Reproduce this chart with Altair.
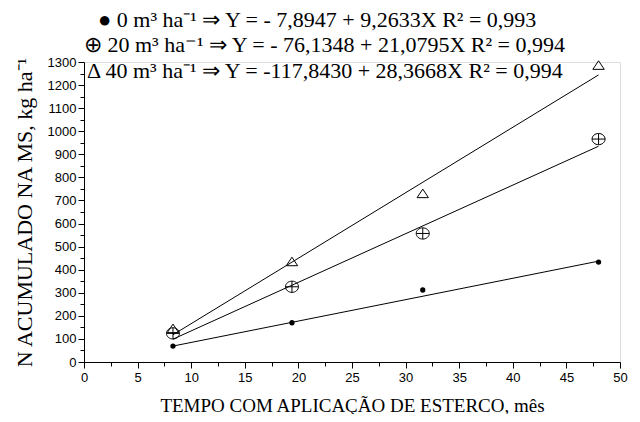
import altair as alt
import pandas as pd

# observed points
months = [8.3, 19.4, 31.6, 48.0]
y_0 = [69, 170, 312, 433]
y_20 = [124, 326, 557, 966]
y_40 = [142, 432, 727, 1283]

# fitted lines (end points)
fit_x = [8.3, 48.0]
fit_0 = [69, 437]
fit_20 = [99, 935]
fit_40 = [118, 1244]

legend_lines = [
    "● 0 m³ ha⁻¹ ⇒ Y = - 7,8947 + 9,2633X   R² = 0,993",
    "⊕ 20 m³ ha⁻¹ ⇒ Y = - 76,1348 + 21,0795X  R² = 0,994",
    "Δ 40 m³ ha⁻¹ ⇒ Y = -117,8430 + 28,3668X  R² = 0,994",
]

pts = pd.DataFrame({
    "x": months * 3,
    "y": y_0 + y_20 + y_40,
    "s": ["0"] * 4 + ["20"] * 4 + ["40"] * 4,
})
fits = pd.DataFrame({
    "x": fit_x * 3,
    "y": fit_0 + fit_20 + fit_40,
    "s": ["0"] * 2 + ["20"] * 2 + ["40"] * 2,
})

W, H = 536, 300
xscale = alt.Scale(domain=[0, 50], nice=False, zero=False)
yscale = alt.Scale(domain=[0, 1300], nice=False, zero=False)

xaxis = alt.Axis(
    values=[i * 2.5 for i in range(21)],
    labelExpr="datum.value % 5 === 0 ? datum.label : ''",
    labelOverlap=False, labelFlush=False, grid=False,
    tickSize={"condition": {"test": "datum.value % 5 === 0", "value": 6}, "value": 4},
    title="TEMPO COM APLICAÇÃO DE ESTERCO, mês",
    titleFont="Liberation Serif", titleFontSize=19, titleFontWeight="normal",
    titlePadding=12, titleColor="black",
    labelFont="Liberation Sans", labelFontSize=13, labelColor="black", labelPadding=3,
    domainColor="black", tickColor="black",
)
yaxis = alt.Axis(
    values=list(range(0, 1301, 50)),
    format="d",
    labelExpr="datum.value % 100 === 0 ? datum.label : ''",
    labelOverlap=False, grid=False,
    tickSize={"condition": {"test": "datum.value % 100 === 0", "value": 6}, "value": 4},
    title="N ACUMULADO NA MS, kg ha⁻¹",
    titleFont="Liberation Serif", titleFontSize=22, titleFontWeight="normal",
    titlePadding=11, titleColor="black",
    labelFont="Liberation Sans", labelFontSize=13, labelColor="black", labelPadding=2,
    domainColor="black", tickColor="black",
)

base_x = alt.X("x:Q", scale=xscale, axis=xaxis)
base_y = alt.Y("y:Q", scale=yscale, axis=yaxis)

lines = alt.Chart(fits).mark_line(color="black", strokeWidth=1).encode(
    x=base_x, y=base_y, detail="s:N"
)

dots = alt.Chart(pts).transform_filter("datum.s === '0'").mark_point(
    shape="circle", filled=True, color="black", size=28, opacity=1
).encode(x=base_x, y=base_y)

circ = alt.Chart(pts).transform_filter("datum.s === '20'").mark_point(
    shape="M-1.1,0A1.1,0.95 0 1,0 1.1,0A1.1,0.95 0 1,0 -1.1,0M-1.1,0L1.1,0M0,-0.95L0,0.95",
    filled=False, color="black", strokeWidth=1, size=140, opacity=1
).encode(x=base_x, y=base_y)

tri = alt.Chart(pts).transform_filter("datum.s === '40'").mark_point(
    shape="M-1,0.6L1,0.6L0,-0.9Z",
    filled=False, color="black", strokeWidth=1, size=130, opacity=1
).encode(x=base_x, y=base_y)

leg = pd.DataFrame({"t": legend_lines, "i": [0, 1, 2]})

texts = []
offs = [(14, -42.5), (0, -17), (3, 9)]
for i, (dx, dy) in enumerate(offs):
    texts.append(
        alt.Chart(leg).transform_filter(f"datum.i === {i}").mark_text(
            align="left", baseline="middle", font="Liberation Serif",
            fontSize=22, color="black"
        ).encode(text="t:N", x=alt.value(dx), y=alt.value(dy))
    )

chart = alt.layer(lines, dots, circ, tri, *texts).properties(
    width=W, height=H,
    autosize=alt.AutoSizeParams(type="none"),
    padding={"left": 76, "top": 54, "right": 10, "bottom": 52},
).configure_view(stroke=None).configure(background="white")

chart.save("out.html", embed_options={"renderer": "svg", "actions": False})
